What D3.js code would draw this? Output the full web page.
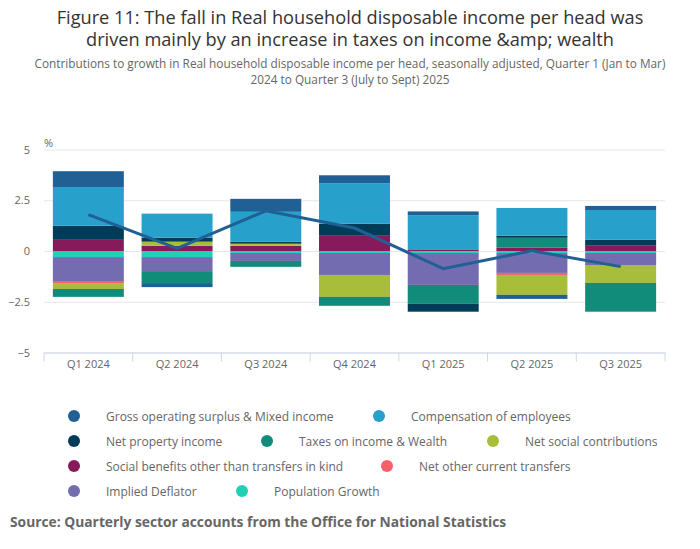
<!DOCTYPE html>
<html><head><meta charset="utf-8">
<script src="https://cdn.jsdelivr.net/npm/d3@7"></script>
<style>
html,body{margin:0;padding:0;background:#fff;}
svg{display:block;font-family:"Open Sans",sans-serif;}
</style></head>
<body><svg id="chart" width="700" height="549"></svg>
<script>
const categories = ["Q1 2024","Q2 2024","Q3 2024","Q4 2024","Q1 2025","Q2 2025","Q3 2025"];
const seriesNames = ["Gross operating surplus & Mixed income","Compensation of employees","Net property income","Taxes on income & Wealth","Net social contributions","Social benefits other than transfers in kind","Net other current transfers","Implied Deflator","Population Growth"];
const seriesColors = ["#206095","#27a0cc","#003c57","#118c7b","#a8bd3a","#871a5b","#f66068","#746cb1","#22d0b6"];
const gos        = [0.78,-0.20,0.64,0.39,0.20,-0.20,0.20];
const comp       = [1.91,1.18,1.47,2.00,1.67,1.37,1.47];
const netProp    = [0.69,0.20,0.10,0.59,-0.39,0.10,0.29];
const taxes      = [-0.39,-0.59,-0.29,-0.44,-0.93,0.49,-1.42];
const netSocial  = [-0.29,0.20,0.10,-1.08,0.00,-0.98,-0.88];
const socialBen  = [0.55,0.26,0.26,0.75,0.08,0.16,0.26];
const netOther   = [-0.10,0.00,0.00,0.00,0.00,-0.10,0.00];
const deflator   = [-1.18,-0.69,-0.39,-1.08,-1.57,-0.98,-0.59];
const population = [-0.30,-0.30,-0.10,-0.10,-0.10,-0.10,-0.10];
const rhdiPerHead = [1.79,0.13,1.98,1.13,-0.87,0.01,-0.77];
const yTicks = [-5,-2.5,0,2.5,5];

(function(){
const seriesValues = [gos,comp,netProp,taxes,netSocial,socialBen,netOther,deflator,population];
const rows = categories.map((c,i)=>{const r={cat:c}; seriesNames.forEach((n,j)=>r[n]=seriesValues[j][i]); return r;});

const svg = d3.select("#chart");
const pLeft=44, pRight=665, pTop=149.5, pBottom=352.5;
const x = d3.scaleBand().domain(categories).range([pLeft,pRight]).paddingInner(0.2).paddingOuter(0.1);
const y = d3.scaleLinear().domain([-5,5]).range([pBottom,pTop]);

// title
svg.append("text").attr("x",350).attr("y",24).attr("text-anchor","middle").attr("font-size",18.2).attr("fill","#333")
  .text("Figure 11: The fall in Real household disposable income per head was");
svg.append("text").attr("x",350).attr("y",46).attr("text-anchor","middle").attr("font-size",18.2).attr("fill","#333")
  .text("driven mainly by an increase in taxes on income &amp; wealth");
svg.append("text").attr("x",350).attr("y",68).attr("text-anchor","middle").attr("font-size",11.8).attr("fill","#666")
  .text("Contributions to growth in Real household disposable income per head, seasonally adjusted, Quarter 1 (Jan to Mar)");
svg.append("text").attr("x",350).attr("y",84).attr("text-anchor","middle").attr("font-size",11.8).attr("fill","#666")
  .text("2024 to Quarter 3 (July to Sept) 2025");

// gridlines
const yAxis = d3.axisLeft(y).tickValues(yTicks).tickSize(-(pRight-pLeft)).tickFormat(d=>d3.format("")(d));
const ga = svg.append("g").attr("transform",`translate(${pLeft},0)`).call(yAxis);
ga.select(".domain").remove();
ga.selectAll(".tick line").attr("stroke","#e6e6e6");
ga.selectAll(".tick text").attr("x",-14).attr("font-size",11).attr("fill","#666").attr("font-family","Open Sans");
svg.append("text").attr("x",44).attr("y",147).attr("font-size",11).attr("fill","#666").text("%");

// stacked bars
const stack = d3.stack().keys(seriesNames.slice().reverse()).offset(d3.stackOffsetDiverging);
const stacked = stack(rows);
const color = d3.scaleOrdinal().domain(seriesNames).range(seriesColors);
svg.append("g").selectAll("g").data(stacked).join("g").attr("fill",d=>color(d.key))
  .selectAll("rect").data(d=>d).join("rect")
  .attr("x",d=>x(d.data.cat)).attr("width",x.bandwidth())
  .attr("y",d=>y(Math.max(d[0],d[1]))).attr("height",d=>Math.abs(y(d[0])-y(d[1])));

// x axis
const xAxis = d3.axisBottom(x).tickSize(0);
const gx = svg.append("g").attr("transform",`translate(0,${pBottom})`).call(xAxis);
gx.select(".domain").attr("stroke","#ccd6eb");
gx.selectAll(".tick text").attr("dy","1.1em").attr("font-size",11).attr("fill","#666").attr("font-family","Open Sans");
const bounds = d3.range(categories.length+1).map(i=>pLeft+i*(pRight-pLeft)/categories.length);
gx.selectAll(".bnd").data(bounds).join("line").attr("class","bnd")
  .attr("x1",d=>d).attr("x2",d=>d).attr("y1",0).attr("y2",9).attr("stroke","#ccd6eb");

// line
const line = d3.line().x((d,i)=>x(categories[i])+x.bandwidth()/2).y(d=>y(d));
svg.append("path").datum(rhdiPerHead).attr("d",line).attr("fill","none").attr("stroke","#206095").attr("stroke-width",3);

// legend
const legendPos = [[74,416],[379,416],[74,441],[267,441],[493,441],[74,466],[387,466],[74,491],[242,491]];
const lg = svg.append("g");
seriesNames.forEach((n,i)=>{
  const [lx,ly]=legendPos[i];
  lg.append("circle").attr("cx",lx).attr("cy",ly).attr("r",6).attr("fill",seriesColors[i]);
  lg.append("text").attr("x",lx+32).attr("y",ly+4.5).attr("font-size",12).attr("fill","#666").text(n);
});

svg.append("text").attr("x",10).attr("y",527).attr("font-size",13.8).attr("font-weight","bold").attr("fill","#666").text("Source: Quarterly sector accounts from the Office for National Statistics");
})();
</script></body></html>
